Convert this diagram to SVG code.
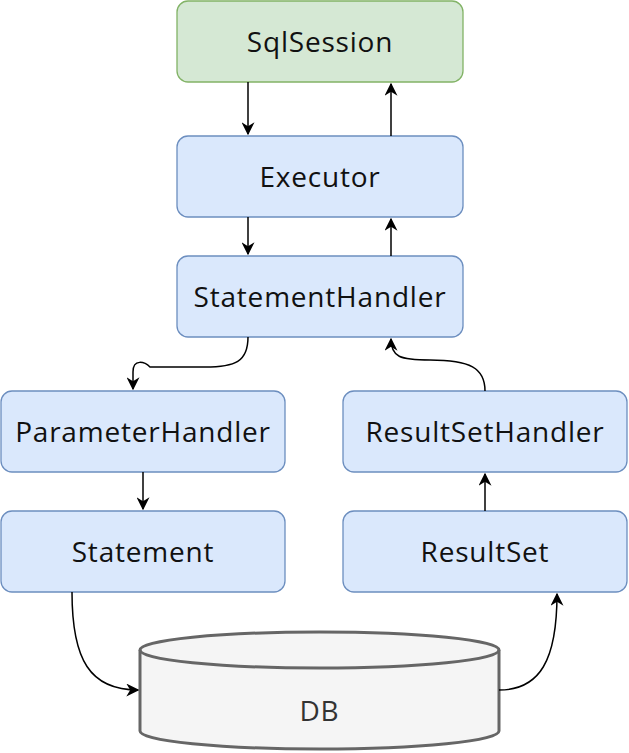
<svg xmlns="http://www.w3.org/2000/svg" width="629" height="753" viewBox="0 0 629 753">
<defs>
<style>
.box{fill:#dae8fc;stroke:#6c8ebf;stroke-width:1.3}
.green{fill:#d5e8d4;stroke:#82b366;stroke-width:1.3}
.lbl{font-family:"Open Sans",Lato,sans-serif;font-size:28px;letter-spacing:0.8px;fill:#111;text-anchor:middle}
.edge{fill:none;stroke:#000;stroke-width:1.5;marker-end:url(#arr)}
.db{fill:#f5f5f5;stroke:#666;stroke-width:3}
</style>
<marker id="arr" viewBox="0 0 10 10" refX="9" refY="5" markerWidth="13" markerHeight="13" markerUnits="userSpaceOnUse" orient="auto">
<path d="M0,0 L10,5 L0,10 L3,5 Z" fill="#000"/>
</marker>
</defs>
<g id="SqlSession"><rect class="green" x="177" y="1" width="286" height="81" rx="11"/><text class="lbl" x="320" y="52">SqlSession</text></g>
<g id="Executor"><rect class="box" x="177" y="136" width="286" height="81" rx="11"/><text class="lbl" x="320" y="187">Executor</text></g>
<g id="StatementHandler"><rect class="box" x="177" y="256" width="286" height="81" rx="11"/><text class="lbl" x="320" y="307">StatementHandler</text></g>
<g id="ParameterHandler"><rect class="box" x="1" y="391" width="284" height="81" rx="11"/><text class="lbl" x="143" y="442">ParameterHandler</text></g>
<g id="Statement"><rect class="box" x="1" y="511" width="284" height="81" rx="11"/><text class="lbl" x="143" y="562">Statement</text></g>
<g id="ResultSetHandler"><rect class="box" x="343" y="391" width="284" height="81" rx="11"/><text class="lbl" x="485" y="442">ResultSetHandler</text></g>
<g id="ResultSet"><rect class="box" x="343" y="511" width="284" height="81" rx="11"/><text class="lbl" x="485" y="562">ResultSet</text></g>
<g id="DB">
<path class="db" d="M140 650 A179.5 18 0 0 1 499 650 L499 731 A179.5 18 0 0 1 140 731 Z"/>
<path class="db" style="fill:none" d="M140 650 A179.5 18 0 0 0 499 650"/>
<text class="lbl" x="319.5" y="721" style="fill:#333">DB</text>
</g>
<g id="connectors">
<path class="edge" d="M248 82 L248 134"/>
<path class="edge" d="M391 136 L391 84"/>
<path class="edge" d="M248 217 L248 254"/>
<path class="edge" d="M391 256 L391 219"/>
<path class="edge" d="M248 337 C248 362, 235 367, 205 367 L150 367 C145 362, 133 358, 133 372 L133 389"/>
<path class="edge" d="M485 391 C485 368, 470 360, 430 360 C400 360, 391 357, 391 339"/>
<path class="edge" d="M143 472 L143 509"/>
<path class="edge" d="M485 511 L485 474"/>
<path class="edge" d="M72 592 C72 660, 90 690, 138 690"/>
<path class="edge" d="M499 690 C540 690, 557 660, 557 594"/>
</g>
</svg>
